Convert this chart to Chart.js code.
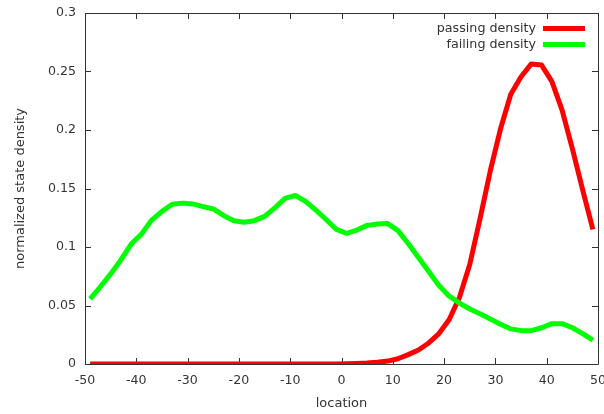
<!DOCTYPE html>
<html>
<head>
<meta charset="utf-8">
<script src="https://cdn.jsdelivr.net/npm/chart.js@4"></script>
<style>
html,body{margin:0;padding:0;background:#fff;}
#wrap{width:604px;height:414px;}
</style>
</head>
<body>
<div id="wrap"><canvas id="c" width="604" height="414"></canvas></div>
<script>
const locations = [-49,-47,-45,-43,-41,-39,-37,-35,-33,-31,-29,-27,-25,-23,-21,-19,-17,-15,-13,-11,-9,-7,-5,-3,-1,1,3,5,7,9,11,13,15,17,19,21,23,25,27,29,31,33,35,37,39,41,43,45,47,49];
const passingDensity = [0,0,0,0,0,0,0,0,0,0,0,0,0,0,0,0,0,0,0,0,0,0,0,0,0.0001,0.0003,0.0005,0.0008,0.0015,0.0025,0.0045,0.008,0.012,0.018,0.026,0.038,0.057,0.085,0.124,0.165,0.201,0.2305,0.2455,0.2565,0.2555,0.2415,0.217,0.184,0.149,0.115];
const failingDensity = [0.0556,0.066,0.077,0.089,0.1025,0.111,0.123,0.1305,0.1365,0.1375,0.1368,0.1345,0.1325,0.127,0.1225,0.1212,0.1225,0.1262,0.1335,0.1415,0.144,0.139,0.1315,0.1235,0.115,0.1117,0.1145,0.1185,0.1197,0.12,0.114,0.103,0.091,0.079,0.067,0.058,0.052,0.047,0.043,0.0385,0.034,0.030,0.0285,0.0285,0.031,0.0345,0.0345,0.031,0.026,0.0205];
const xTickValues = [-50,-40,-30,-20,-10,0,10,20,30,40,50];
const yTickValues = [0,0.05,0.1,0.15,0.2,0.25,0.3];
const seriesLabels = ['passing density','failing density'];
const seriesColors = ['#ff0000','#00ff00'];

const FONT = 'DejaVu Sans';
const TEXT = '#333333';

const frame = {
  id: 'frame',
  beforeDatasetsDraw(chart) {
    const {ctx, chartArea: a, scales} = chart;
    ctx.save();
    ctx.strokeStyle = '#333';
    ctx.lineWidth = 1;
    ctx.beginPath();
    ctx.rect(Math.round(a.left)+0.5, Math.round(a.top)+0.5, Math.round(a.right-a.left), Math.round(a.bottom-a.top));
    ctx.stroke();
    const L = 6;
    ctx.beginPath();
    xTickValues.forEach(v => {
      const x = Math.round(scales.x.getPixelForValue(v)) + 0.5;
      ctx.moveTo(x, a.bottom); ctx.lineTo(x, a.bottom - L);
      ctx.moveTo(x, a.top); ctx.lineTo(x, a.top + L);
    });
    yTickValues.forEach(v => {
      const y = Math.round(scales.y.getPixelForValue(v)) + 0.5;
      ctx.moveTo(a.left, y); ctx.lineTo(a.left + L, y);
      ctx.moveTo(a.right, y); ctx.lineTo(a.right - L, y);
    });
    ctx.stroke();
    ctx.restore();
  },
  afterDraw(chart) {
    const {ctx} = chart;
    ctx.save();
    ctx.font = '12.7px "' + FONT + '"';
    ctx.textAlign = 'right';
    ctx.textBaseline = 'middle';
    const rows = [28.5, 44.5];
    chart.data.datasets.forEach((ds, i) => {
      const y = rows[i];
      ctx.fillStyle = TEXT;
      ctx.fillText(ds.label, 536, y);
      ctx.strokeStyle = ds.borderColor;
      ctx.lineWidth = 5;
      ctx.beginPath();
      ctx.moveTo(543, y); ctx.lineTo(585, y);
      ctx.stroke();
    });
    ctx.restore();
  }
};

new Chart(document.getElementById('c'), {
  type: 'line',
  data: {
    datasets: [
      { label: seriesLabels[0], data: locations.map((x,i)=>({x, y: passingDensity[i]})), borderColor: seriesColors[0], backgroundColor: seriesColors[0], borderWidth: 5, pointRadius: 0, tension: 0, order: 2, borderJoinStyle: 'round' },
      { label: seriesLabels[1], data: locations.map((x,i)=>({x, y: failingDensity[i]})), borderColor: seriesColors[1], backgroundColor: seriesColors[1], borderWidth: 5, pointRadius: 0, tension: 0, order: 1, borderJoinStyle: 'round' }
    ]
  },
  options: {
    responsive: false,
    animation: false,
    devicePixelRatio: 1,
    layout: { padding: { top: 13, right: 6, left: 0, bottom: 0 } },
    plugins: { legend: { display: false }, tooltip: { enabled: false } },
    scales: {
      x: {
        type: 'linear', min: -50, max: 50,
        grid: { display: false, drawTicks: false },
        border: { display: false },
        afterBuildTicks: s => { s.ticks = xTickValues.map(v => ({value: v})); },
        afterFit: s => { s.height = 50; s.paddingLeft = 0; s.paddingRight = 0; },
        ticks: { color: TEXT, font: { family: FONT, size: 12.6 }, padding: 9, maxRotation: 0, autoSkip: false, callback: v => String(v) },
        title: { display: true, text: 'location', color: TEXT, font: { family: FONT, size: 13 }, padding: { top: 0, bottom: 3 } }
      },
      y: {
        min: 0, max: 0.3,
        grid: { display: false, drawTicks: false },
        border: { display: false },
        afterBuildTicks: s => { s.ticks = yTickValues.map(v => ({value: v})); },
        afterFit: s => { s.width = 85; s.paddingTop = 0; s.paddingBottom = 0; },
        ticks: { color: TEXT, font: { family: FONT, size: 12.6 }, padding: 9, autoSkip: false, callback: v => String(v) },
        title: { display: true, text: 'normalized state density', color: TEXT, font: { family: FONT, size: 13 }, padding: { top: 13, bottom: 0 } }
      }
    }
  },
  plugins: [frame]
});
</script>
</body>
</html>
